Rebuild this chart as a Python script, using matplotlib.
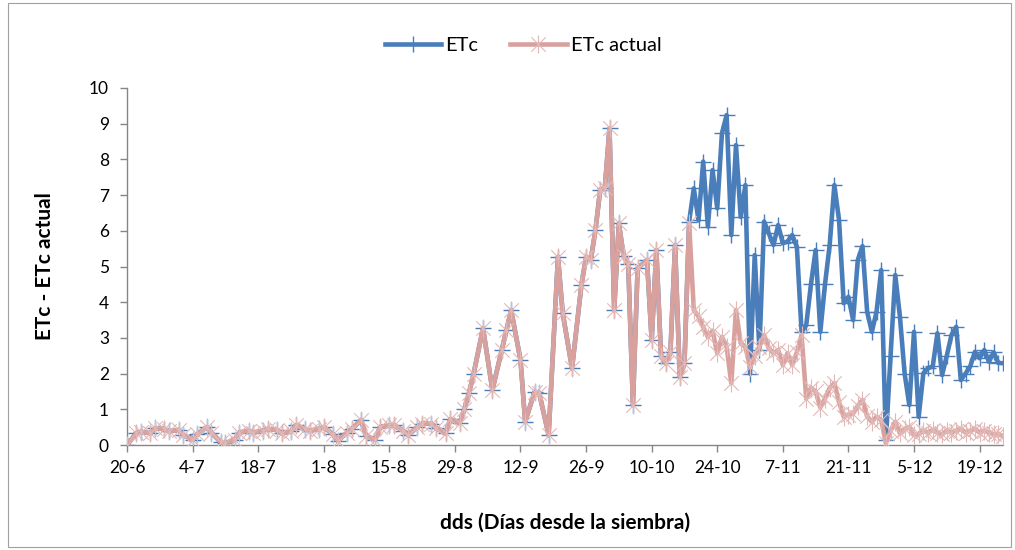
import numpy as np
import matplotlib.pyplot as plt
from matplotlib.path import Path
from matplotlib.patches import Rectangle

plt.rcParams['font.family'] = ['Lato', 'DejaVu Sans']

# days since sowing (20-6)
days = [0, 2, 3, 5, 6, 8, 9, 11, 12, 14, 15, 17, 18, 20, 21, 23, 24, 26, 27, 29,
        30, 32, 33, 35, 36, 38, 39, 41, 42, 44, 45, 47, 48, 50, 51, 53, 54, 56, 57, 59,
        60, 62, 63, 65, 66, 68, 69, 71,
        72, 73, 74, 76, 78, 80, 81, 82, 84, 85, 87, 88, 90, 92, 93, 95, 97, 98, 99, 100,
        101, 102, 103, 104, 105, 106, 107, 108, 109, 111, 112, 113, 114, 115, 116, 117, 118, 119] \
       + list(range(120, 188))

# part where both series are the same (ETc actual drawn on top of ETc)
common = [0, 0.33, 0.37, 0.33, 0.47, 0.45, 0.38, 0.42, 0.28, 0.15,
          0.3, 0.5, 0.35, 0.08, 0.05, 0.15, 0.35, 0.4, 0.35, 0.4,
          0.45, 0.42, 0.33, 0.38, 0.55, 0.45, 0.40, 0.45, 0.5, 0.3,
          0.12, 0.35, 0.45, 0.7, 0.25, 0.15, 0.5, 0.55, 0.55, 0.4,
          0.28, 0.5, 0.6, 0.6, 0.47, 0.33, 0.72, 0.62,
          1.0, 1.45, 2.0, 3.27, 1.54, 2.66, 3.22, 3.78, 2.38, 0.65,
          1.49, 1.45, 0.28, 5.27, 3.7, 2.15, 4.48, 5.27, 5.18, 6.02,
          7.14, 7.19, 8.87, 3.78, 6.21, 5.3, 5.08, 1.12, 4.95,
          5.18, 2.94, 5.46, 2.5, 2.29, 2.6, 5.6, 1.91, 2.29]

etc_late = [6.26, 7.19, 6.29, 7.94, 6.12, 7.7, 6.63, 8.73, 9.24, 5.88,
            8.4, 6.39, 7.28, 2.0, 5.32, 2.66, 6.26, 5.93, 5.6, 6.16,
            5.65, 5.7, 5.88, 5.55, 3.17, 3.36, 4.5, 5.46, 3.17, 4.5,
            5.6, 7.28, 6.3, 3.97, 4.15, 3.5, 5.18, 5.57, 3.73, 3.17,
            3.73, 4.9, 0.14, 2.5, 4.76, 3.59, 2.0, 1.12, 3.17, 0.79,
            2.01, 2.15, 2.2, 3.13, 1.96, 2.5, 3.08, 3.31, 1.82, 2.0,
            2.2, 2.61, 2.43, 2.66, 2.33, 2.6, 2.3, 2.29]

actual_late = [6.21, 3.78, 3.6, 3.3, 3.03, 3.2, 2.57, 3.03, 2.75, 1.73,
               3.78, 2.85, 2.75, 2.19, 2.5, 2.75, 3.08, 2.71, 2.57, 2.66,
               2.24, 2.57, 2.24, 2.6, 3.08, 1.3, 1.6, 1.5, 1.05, 1.3,
               1.6, 1.73, 1.2, 0.79, 0.85, 0.88, 1.1, 1.26, 0.8, 0.65,
               0.79, 0.7, 0.05, 0.4, 0.65, 0.33, 0.45, 0.5, 0.28, 0.3,
               0.4, 0.35, 0.42, 0.35, 0.3, 0.4, 0.35, 0.4, 0.45, 0.35,
               0.4, 0.45, 0.35, 0.4, 0.35, 0.3, 0.3, 0.25]

etc = common + etc_late
etc_actual = common + actual_late

tick_days = [0, 14, 28, 42, 56, 70, 84, 98, 112, 126, 140, 154, 168, 182]
tick_labels = ['20-6', '4-7', '18-7', '1-8', '15-8', '29-8', '12-9', '26-9',
               '10-10', '24-10', '7-11', '21-11', '5-12', '19-12']

blue = '#4a7ebb'
pink = '#d9a19e'
axis_col = '#868686'

# asterisk marker: vertical line plus an X
star = Path([(0, -1), (0, 1), (-0.8, -0.8), (0.8, 0.8), (-0.8, 0.8), (0.8, -0.8)],
            [Path.MOVETO, Path.LINETO, Path.MOVETO, Path.LINETO, Path.MOVETO, Path.LINETO])

fig = plt.figure(figsize=(10.15, 5.5), dpi=100)
fig.patches.append(Rectangle((8 / 1015, 3 / 550), 1003 / 1015, 544 / 550,
                             transform=fig.transFigure, fill=False,
                             edgecolor='#a0a0a0', linewidth=0.8))
ax = fig.add_axes([127 / 1015, 105 / 550, 876 / 1015, 357 / 550])

ax.plot(days, etc, color=blue, linewidth=3.3, marker='+', markersize=12,
        markeredgewidth=1.0, markeredgecolor=blue, label='ETc', zorder=2)
ax.plot(days, etc_actual, color=pink, linewidth=3.3, marker=star, markersize=13,
        markeredgewidth=0.8, markeredgecolor='#e2b8b6', markerfacecolor='none',
        label='ETc actual', zorder=3)

ax.set_xlim(0, 187)
ax.set_ylim(0, 10)
ax.set_yticks(range(0, 11))
ax.set_xticks(tick_days)
ax.set_xticklabels(tick_labels)

for s in ['top', 'right']:
    ax.spines[s].set_visible(False)
for s in ['left', 'bottom']:
    ax.spines[s].set_color(axis_col)
    ax.spines[s].set_linewidth(1.0)
ax.tick_params(axis='both', colors=axis_col, labelcolor='black', labelsize=12.5,
               length=5, width=1.0, direction='out')
ax.tick_params(axis='x', pad=6)
ax.tick_params(axis='y', pad=8)

ax.set_ylabel('ETc - ETc actual', fontsize=15, fontweight='bold')
ax.yaxis.set_label_coords(-0.082, 0.5)
ax.set_xlabel('dds (Días desde la siembra)', fontsize=15, fontweight='bold')
ax.xaxis.set_label_coords(0.5, -0.19)

ax.legend(loc='center', bbox_to_anchor=(523 / 1015, 1 - 45 / 550),
          bbox_transform=fig.transFigure, ncol=2, frameon=False,
          fontsize=14.5, handlelength=2.8, columnspacing=1.6, handletextpad=0.2)

fig.savefig('out.png', dpi=100)
